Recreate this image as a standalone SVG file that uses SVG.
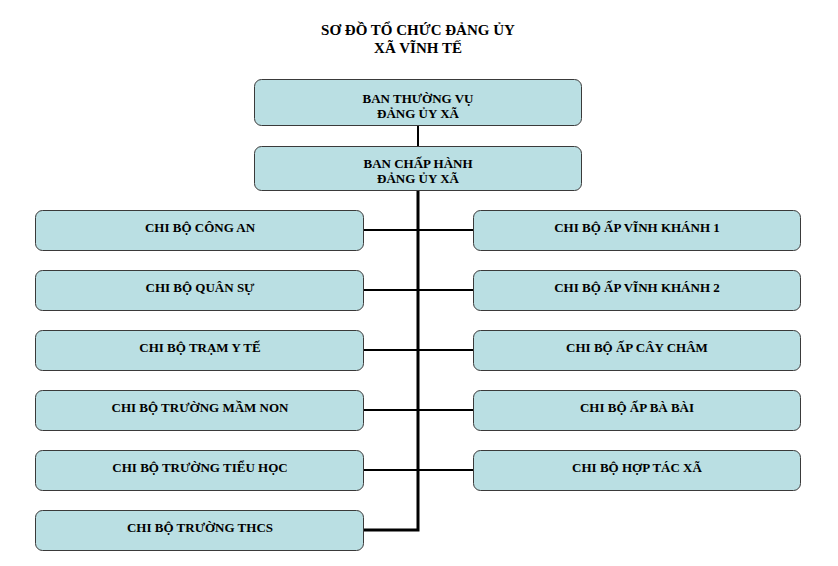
<svg xmlns="http://www.w3.org/2000/svg" width="838" height="566" viewBox="0 0 838 566">
<style>
.box{fill:#badfe3;stroke:#3a3a3a;stroke-width:1}
.t{font-family:"Liberation Serif","Times New Roman",serif;font-weight:bold;font-size:13px;fill:#000;text-anchor:middle}
.title{font-family:"Liberation Serif","Times New Roman",serif;font-weight:bold;font-size:15px;fill:#000;text-anchor:middle}
.c{stroke:#000;fill:none}
</style>
<rect width="838" height="566" fill="#fff"/>
<text class="title" x="418" y="35">SƠ ĐỒ TỔ CHỨC ĐẢNG ỦY</text>
<text class="title" x="418" y="53">XÃ VĨNH TẾ</text>
<g id="connectors">
<line class="c" x1="418" y1="126" x2="418" y2="146" stroke-width="2"/>
<polyline class="c" points="418,190 418,530 363,530" stroke-width="3"/>
<line class="c" x1="363" y1="230" x2="473" y2="230" stroke-width="2"/>
<line class="c" x1="363" y1="290" x2="473" y2="290" stroke-width="2"/>
<line class="c" x1="363" y1="350" x2="473" y2="350" stroke-width="2"/>
<line class="c" x1="363" y1="410" x2="473" y2="410" stroke-width="2"/>
<line class="c" x1="363" y1="470" x2="473" y2="470" stroke-width="2"/>
</g>
<g id="ban-thuong-vu"><rect class="box" x="254.5" y="79.5" width="327" height="46" rx="7"/><text class="t" x="418" y="103">BAN THƯỜNG VỤ</text><text class="t" x="418" y="118">ĐẢNG ỦY XÃ</text></g>
<g id="ban-chap-hanh"><rect class="box" x="254.5" y="146.5" width="327" height="44" rx="7"/><text class="t" x="418" y="168">BAN CHẤP HÀNH</text><text class="t" x="418" y="183">ĐẢNG ỦY XÃ</text></g>
<g id="cong-an"><rect class="box" x="35.5" y="210.5" width="328" height="40" rx="7"/><text class="t" x="200" y="232">CHI BỘ CÔNG AN</text></g>
<g id="quan-su"><rect class="box" x="35.5" y="270.5" width="328" height="40" rx="7"/><text class="t" x="200" y="292">CHI BỘ QUÂN SỰ</text></g>
<g id="tram-y-te"><rect class="box" x="35.5" y="330.5" width="328" height="40" rx="7"/><text class="t" x="200" y="352">CHI BỘ TRẠM Y TẾ</text></g>
<g id="mam-non"><rect class="box" x="35.5" y="390.5" width="328" height="40" rx="7"/><text class="t" x="200" y="412">CHI BỘ TRƯỜNG MẦM NON</text></g>
<g id="tieu-hoc"><rect class="box" x="35.5" y="450.5" width="328" height="40" rx="7"/><text class="t" x="200" y="472">CHI BỘ TRƯỜNG TIỂU HỌC</text></g>
<g id="thcs"><rect class="box" x="35.5" y="510.5" width="328" height="40" rx="7"/><text class="t" x="200" y="532">CHI BỘ TRƯỜNG THCS</text></g>
<g id="vinh-khanh-1"><rect class="box" x="473.5" y="210.5" width="327" height="40" rx="7"/><text class="t" x="637" y="232">CHI BỘ ẤP VĨNH KHÁNH 1</text></g>
<g id="vinh-khanh-2"><rect class="box" x="473.5" y="270.5" width="327" height="40" rx="7"/><text class="t" x="637" y="292">CHI BỘ ẤP VĨNH KHÁNH 2</text></g>
<g id="cay-cham"><rect class="box" x="473.5" y="330.5" width="327" height="40" rx="7"/><text class="t" x="637" y="352">CHI BỘ ẤP CÂY CHÂM</text></g>
<g id="ba-bai"><rect class="box" x="473.5" y="390.5" width="327" height="40" rx="7"/><text class="t" x="637" y="412">CHI BỘ ẤP BÀ BÀI</text></g>
<g id="hop-tac-xa"><rect class="box" x="473.5" y="450.5" width="327" height="40" rx="7"/><text class="t" x="637" y="472">CHI BỘ HỢP TÁC XÃ</text></g>
</svg>
